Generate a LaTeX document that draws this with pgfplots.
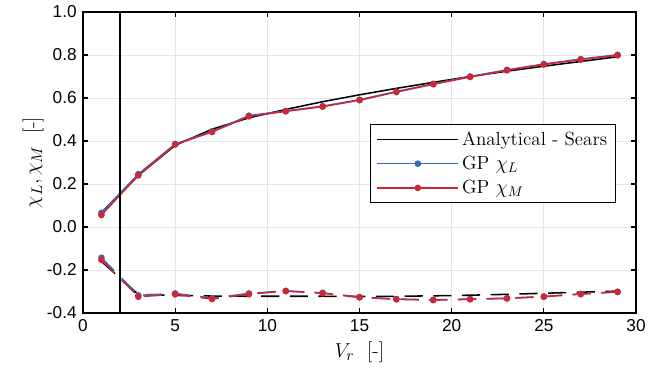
\documentclass[border=0pt]{standalone}
\usepackage{fontspec}
\usepackage{pgfplots}
\pgfplotsset{compat=1.18}
\newfontfamily\tickfont{Liberation Sans}
\definecolor{gpblue}{RGB}{49,104,194}
\definecolor{gpred}{RGB}{209,38,49}
\begin{document}
\begin{tikzpicture}
\begin{axis}[
  scale only axis,
  width=395pt, height=215pt,
  xmin=0, xmax=30, ymin=-0.4, ymax=1.0,
  xtick={0,5,...,30},
  ytick={-0.4,-0.2,0,0.2,0.4,0.6,0.8,1.0},
  yticklabel style={xshift=-1pt, /pgf/number format/fixed, /pgf/number format/fixed zerofill, /pgf/number format/precision=1},
  /pgf/number format/assume math mode=true,
  tick label style={font=\tickfont\fontsize{12.3}{14}\selectfont},
  xticklabel style={yshift=-1pt},
  grid=major,
  major grid style={gray!20, line width=0.6pt},
  axis line style={line width=0.8pt},
  tick style={black, line width=0.8pt},
  major tick length=3.6pt,
  xlabel={$V_r$\ \ [-]},
  ylabel={$\chi_L, \chi_M$\ \ [-]},
  label style={font=\fontsize{15}{17}\selectfont},
  xlabel style={at={(axis description cs:0.5,-0.13)}, anchor=center},
  ylabel style={at={(axis description cs:-0.09,0.5)}, anchor=center},
  legend style={at={(0.964,0.628)}, anchor=north east, draw=black, line width=0.8pt,
    font=\fontsize{13.6}{15.5}\selectfont, row sep=2.2pt, inner xsep=4pt, inner ysep=3pt},
  legend cell align=left,
  legend image code/.code={
    \draw[#1, mark=none, line width=1.1pt] (0pt,0pt) -- (58pt,0pt);
    \draw[#1, only marks] plot coordinates {(29pt,0pt)};
  },
]
\coordinate (ll) at (rel axis cs:0,0);
\coordinate (ur) at (rel axis cs:1,1);
% Analytical - Sears (real)
\addplot[black, line width=1.1pt, mark=none] coordinates {
(1,0.068)(3,0.24)(5,0.38)(7,0.455)(9,0.508)(11,0.547)(13,0.583)(15,0.615)(17,0.645)(19,0.673)(21,0.70)(23,0.725)(25,0.748)(27,0.77)(29,0.792)};
\addlegendentry{Analytical - Sears}
% GP chi_L real
\addplot[gpblue, line width=1.1pt, mark=*, mark size=1.8pt] coordinates {
(1,0.066)(3,0.246)(5,0.386)(7,0.445)(9,0.518)(11,0.54)(13,0.562)(15,0.592)(17,0.63)(19,0.666)(21,0.70)(23,0.731)(25,0.758)(27,0.781)(29,0.801)};
\addlegendentry{GP $\chi_L$}
% GP chi_M real
\addplot[gpred, line width=1.1pt, mark=*, mark size=1.8pt] coordinates {
(1,0.056)(3,0.24)(5,0.384)(7,0.442)(9,0.515)(11,0.538)(13,0.56)(15,0.59)(17,0.628)(19,0.664)(21,0.698)(23,0.729)(25,0.756)(27,0.779)(29,0.799)};
\addlegendentry{GP $\chi_M$}
% Analytical imag
\addplot[black, line width=1.1pt, dash pattern=on 13pt off 7.5pt, mark=none, forget plot] coordinates {
(1,-0.16)(3,-0.313)(5,-0.318)(7,-0.321)(9,-0.322)(11,-0.322)(13,-0.322)(15,-0.323)(17,-0.322)(19,-0.32)(21,-0.317)(23,-0.313)(25,-0.308)(27,-0.303)(29,-0.298)};
% GP chi_L imag
\addplot[gpblue, line width=1.1pt, dash pattern=on 13pt off 7.5pt, mark=*, mark size=1.8pt, mark options={solid}, forget plot] coordinates {
(1,-0.143)(3,-0.318)(5,-0.309)(7,-0.331)(9,-0.309)(11,-0.297)(13,-0.306)(15,-0.326)(17,-0.335)(19,-0.339)(21,-0.335)(23,-0.331)(25,-0.323)(27,-0.311)(29,-0.301)};
% GP chi_M imag
\addplot[gpred, line width=1.1pt, dash pattern=on 13pt off 7.5pt, mark=*, mark size=1.8pt, mark options={solid}, forget plot] coordinates {
(1,-0.153)(3,-0.324)(5,-0.313)(7,-0.335)(9,-0.312)(11,-0.298)(13,-0.308)(15,-0.327)(17,-0.336)(19,-0.34)(21,-0.336)(23,-0.332)(25,-0.324)(27,-0.312)(29,-0.302)};
% vertical line
\addplot[black, line width=1.1pt, mark=none, forget plot] coordinates {(2,-0.4)(2,1.0)};
\end{axis}
\pgfresetboundingbox
\path ([xshift=-59.3pt,yshift=-43.6pt]ll) rectangle ([xshift=25.7pt,yshift=8.6pt]ur);
\end{tikzpicture}
\end{document}
